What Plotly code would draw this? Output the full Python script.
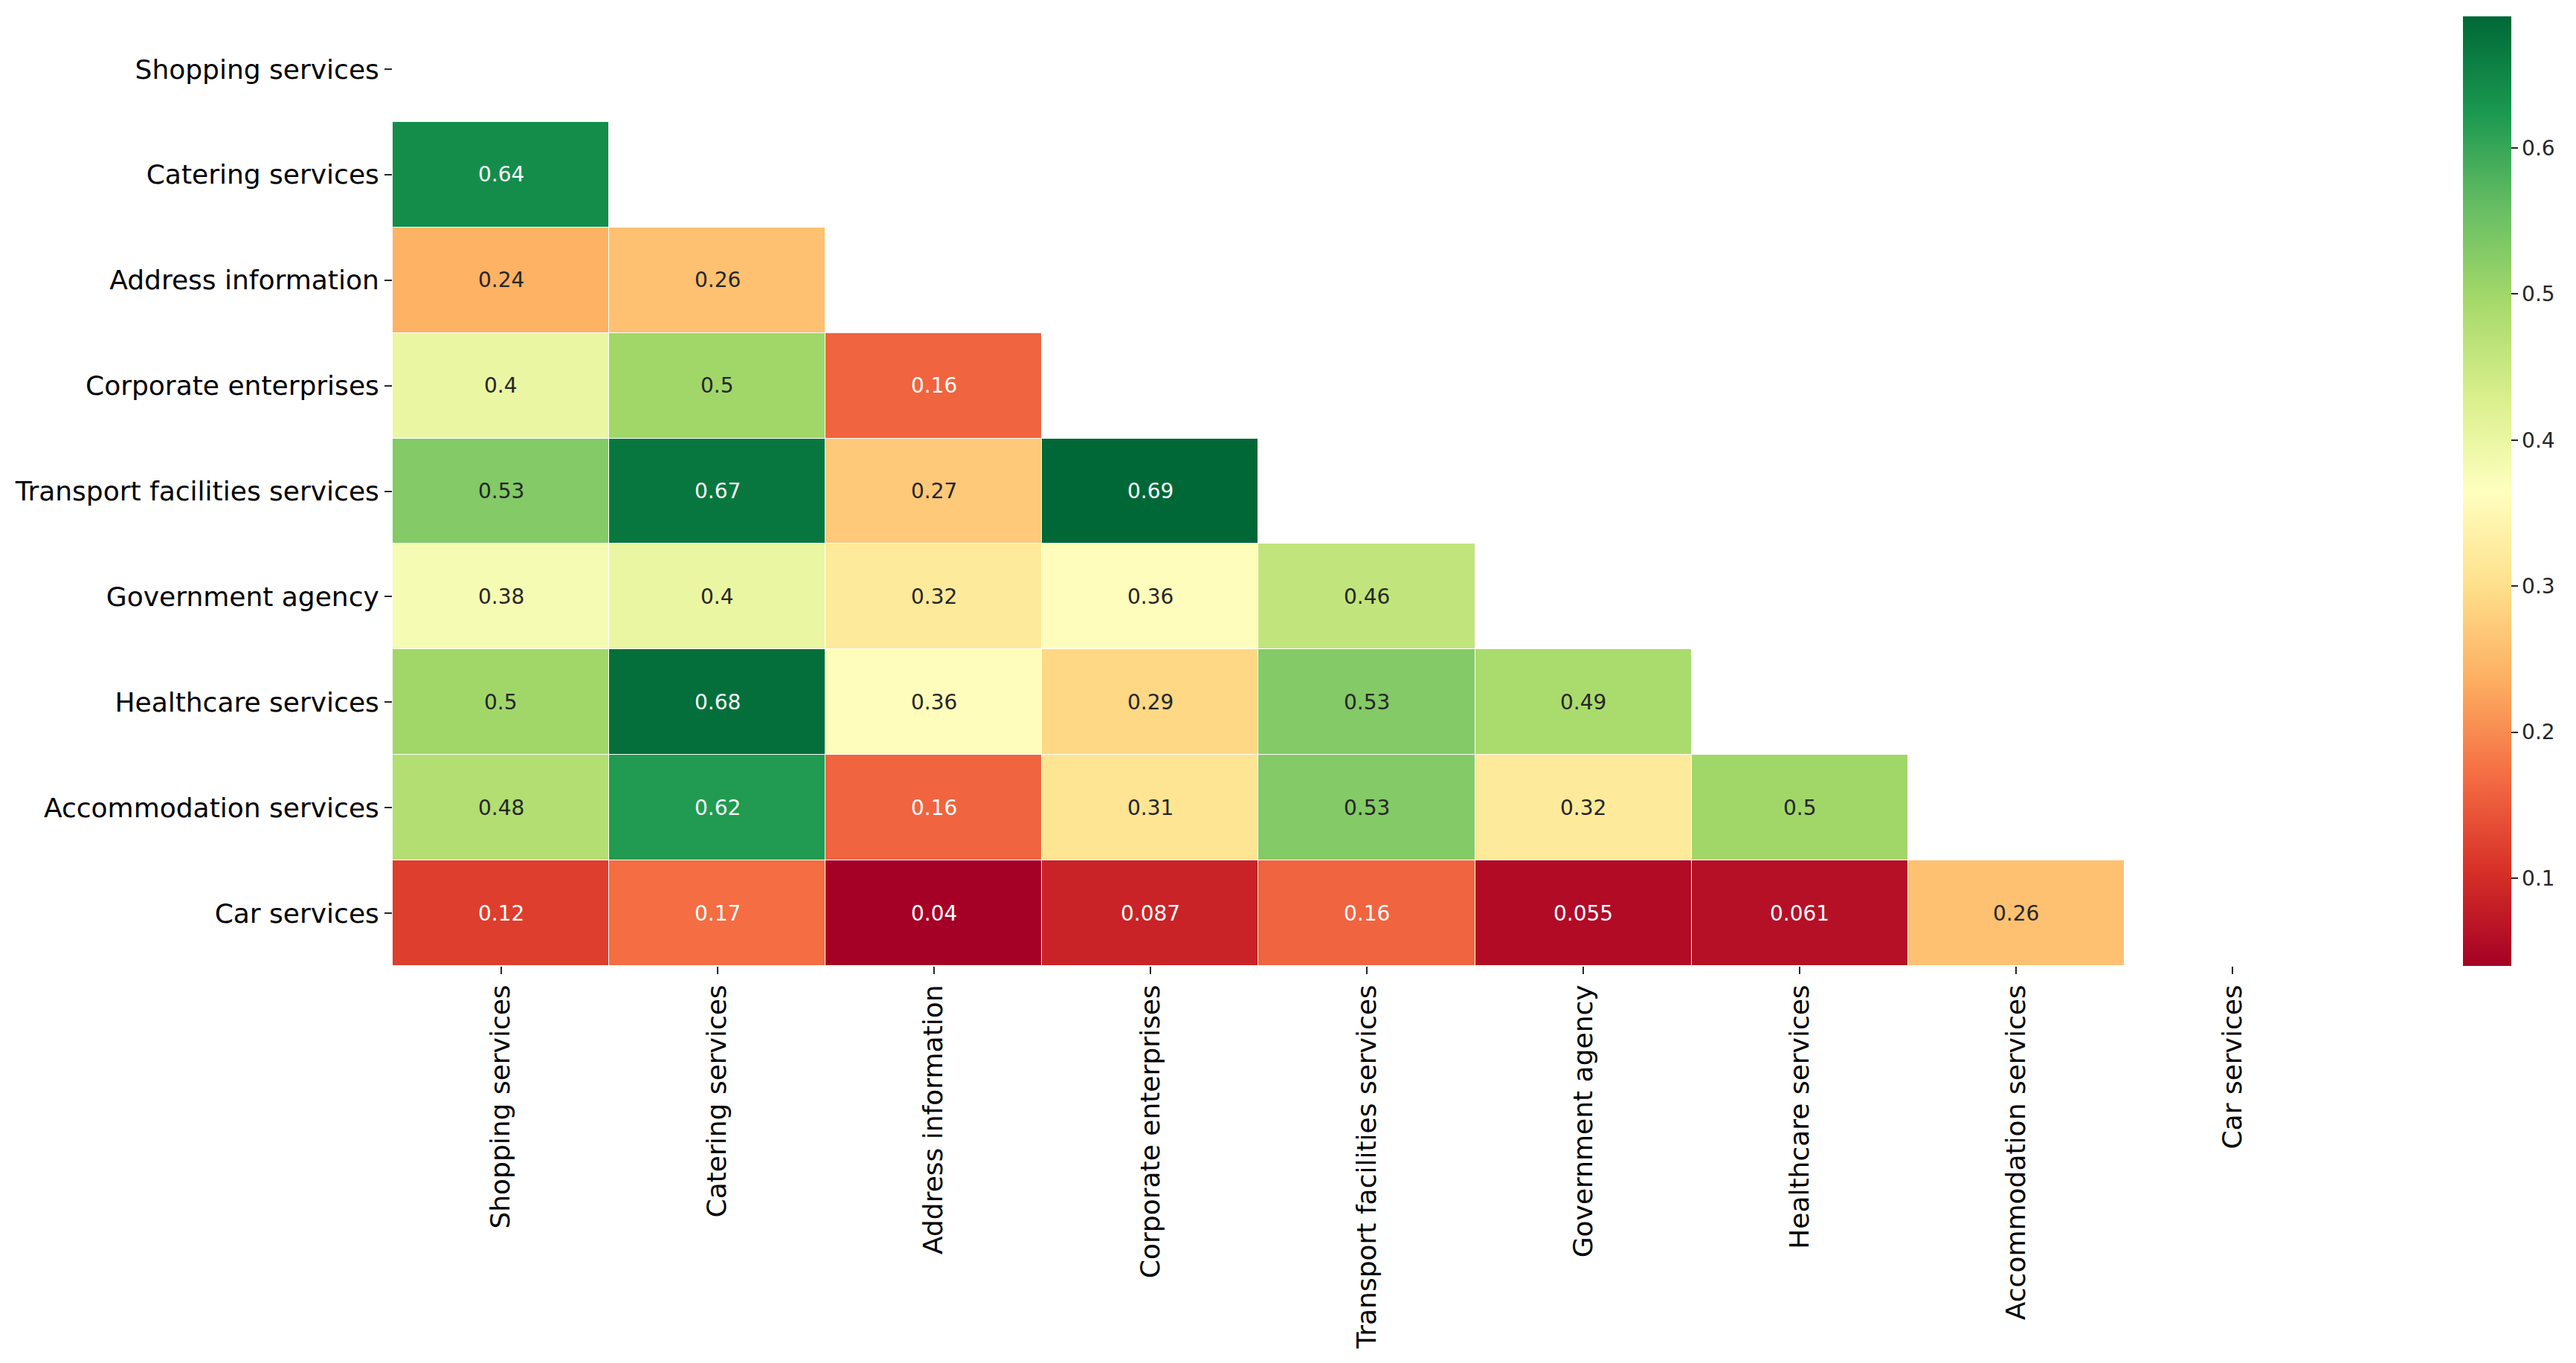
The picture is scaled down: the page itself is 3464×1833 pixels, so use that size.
import plotly.graph_objects as go
from plotly.colors import sample_colorscale, unlabel_rgb
import plotly.express as px

categories = ["Shopping services", "Catering services", "Address information",
              "Corporate enterprises", "Transport facilities services",
              "Government agency", "Healthcare services",
              "Accommodation services", "Car services"]

# lower-triangle correlation values, row by row (row i has i values)
row_shopping = []
row_catering = [0.64]
row_address = [0.24, 0.26]
row_corporate = [0.4, 0.5, 0.16]
row_transport = [0.53, 0.67, 0.27, 0.69]
row_government = [0.38, 0.4, 0.32, 0.36, 0.46]
row_healthcare = [0.5, 0.68, 0.36, 0.29, 0.53, 0.49]
row_accommodation = [0.48, 0.62, 0.16, 0.31, 0.53, 0.32, 0.5]
row_car = [0.12, 0.17, 0.04, 0.087, 0.16, 0.055, 0.061, 0.26]

colorbar_ticks = [0.1, 0.2, 0.3, 0.4, 0.5, 0.6]

rows = [row_shopping, row_catering, row_address, row_corporate, row_transport,
        row_government, row_healthcare, row_accommodation, row_car]
n = len(categories)
z = [[(r[j] if j < len(r) else None) for j in range(n)] for r in rows]

vals = [v for r in rows for v in r]
zmin, zmax = min(vals), max(vals)
cscale = px.colors.diverging.RdYlGn

def rel_lum(rgb):
    out = []
    for c in rgb:
        c = c / 255.0
        out.append(c / 12.92 if c <= 0.03928 else ((c + 0.055) / 1.055) ** 2.4)
    return 0.2126 * out[0] + 0.7152 * out[1] + 0.0722 * out[2]

annotations = []
for i, r in enumerate(rows):
    for j, v in enumerate(r):
        col = sample_colorscale(cscale, [(v - zmin) / (zmax - zmin)])[0]
        rgb = unlabel_rgb(col)
        tc = "#262626" if rel_lum(rgb) > 0.408 else "#ffffff"
        annotations.append(dict(x=categories[j], y=categories[i], text=f"{v:.2g}",
                                showarrow=False, xref="x", yref="y",
                                font=dict(family="DejaVu Sans", size=28, color=tc)))

W, H = 3464, 1833
L, T = 520, 14
pw, ph = 2620, 1277
R = W - L - pw
B = H - T - ph

fig = go.Figure(go.Heatmap(
    z=z, x=categories, y=categories,
    colorscale=cscale, zmin=zmin, zmax=zmax,
    xgap=1, ygap=1, hoverinfo="skip",
    colorbar=dict(
        thickness=65, thicknessmode="pixels",
        len=1.0, lenmode="fraction", y=0.5, yanchor="middle",
        x=(3304 - L) / pw, xanchor="left", xpad=0, ypad=0,
        outlinewidth=0,
        tickvals=colorbar_ticks, ticktext=[f"{t:g}" for t in colorbar_ticks],
        ticks="outside", ticklen=9, tickwidth=2, tickcolor="#262626",
        tickfont=dict(family="DejaVu Sans", size=28, color="#262626"),
    ),
))

fig.update_layout(
    width=W, height=H,
    margin=dict(l=L, r=R, t=T, b=B, pad=0),
    paper_bgcolor="white", plot_bgcolor="white",
    font=dict(family="DejaVu Sans", color="black"),
    annotations=annotations,
    xaxis=dict(type="category", categoryorder="array", categoryarray=categories,
               range=[-0.5, n - 0.5], showgrid=False, zeroline=False, showline=False,
               ticks="outside", ticklen=10, tickwidth=2, tickcolor="#262626",
               tickangle=-90, tickfont=dict(family="DejaVu Sans", size=36, color="black")),
    yaxis=dict(type="category", categoryorder="array", categoryarray=categories,
               range=[n - 0.5, -0.5], showgrid=False, zeroline=False, showline=False,
               ticks="outside", ticklen=10, tickwidth=2, tickcolor="#262626",
               tickfont=dict(family="DejaVu Sans", size=36, color="black")),
)

fig.write_html("out.html")
